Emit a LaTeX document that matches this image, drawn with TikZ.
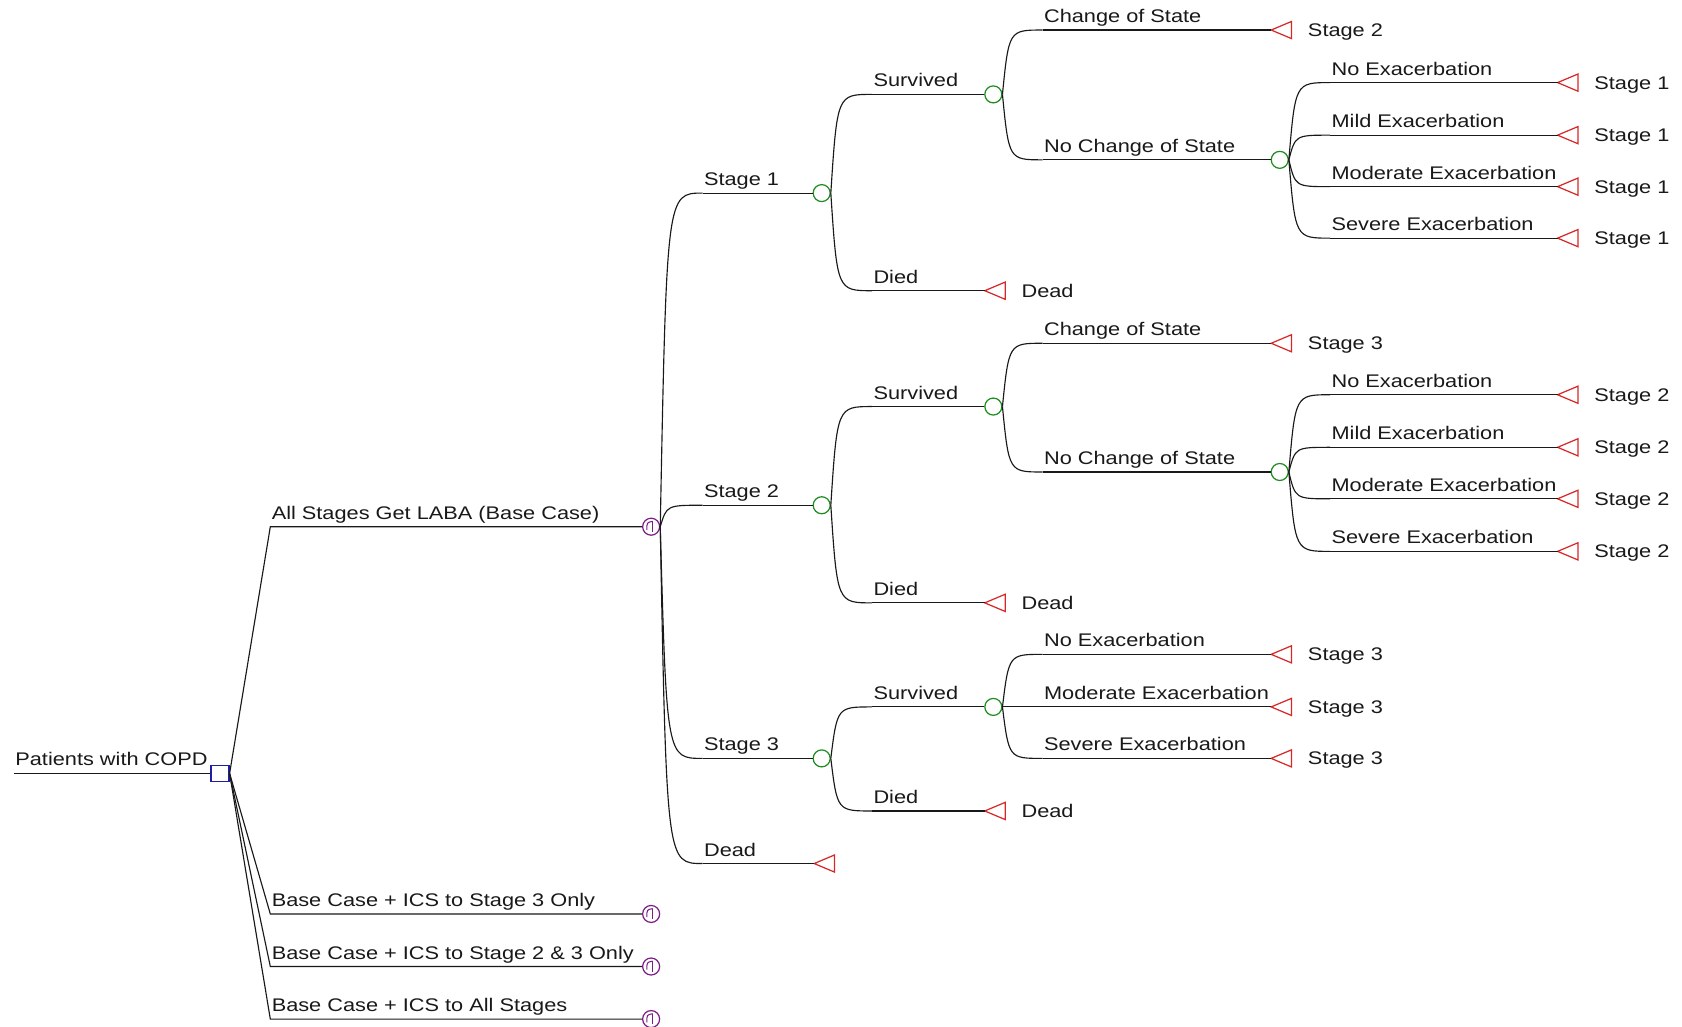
\documentclass[tikz,border=0pt]{standalone}
\usepackage{fontspec}
\setmainfont[FakeStretch=1.19]{Liberation Sans}
\usetikzlibrary{calc}
\definecolor{chg}{RGB}{30,140,30}
\definecolor{trm}{RGB}{215,40,40}
\definecolor{dec}{RGB}{30,30,165}
\definecolor{mkv}{RGB}{125,30,135}
\definecolor{ln}{RGB}{25,25,25}
\newcommand\brn[5]{%
  \coordinate (#2) at (#3,#4);
  \draw[br] (#1.east) .. controls ($(#1.east |- #2)+(6,0)$) and ($(#1.east |- #2)+(6,0)$) .. (#2);
  \node[lbl] (#2-l) at ($(#2)+(1,-7)$) {#5};}
\newcommand\trmnode[4]{%
  \coordinate (#1) at (#2,#3);
  \draw[term] (#1) -- ++(19,-8) -- ++(0,16) -- cycle;
  \node[tlbl] (#1-l) at ($(#1)+(34,6)$) {#4};}
\newcommand\mkvnode[3]{%
  \node[markov] (#1) at (#2,#3) {};
  \draw[mkv, line width=0.6pt] ($(#1)+(1.5,-5)$) -- ++(0,10);
  \draw[mkv, line width=0.6pt] ($(#1)+(-4,3)$) .. controls ($(#1)+(-4,-4)$) .. ($(#1)+(1.5,-5)$);}
\begin{document}
\begin{tikzpicture}[x=0.021454cm,y=-0.021454cm,
  br/.style={draw=ln, line width=0.65pt},
  term/.style={draw=trm, line width=0.7pt, line join=miter},
  chance/.style={circle, draw=chg, line width=0.7pt, minimum size=0.34cm, inner sep=0pt},
  markov/.style={circle, draw=mkv, line width=0.7pt, minimum size=0.34cm, inner sep=0pt},
  decision/.style={rectangle, draw=dec, line width=0.8pt, minimum width=0.36cm, minimum height=0.32cm, inner sep=0pt},
  lbl/.style={anchor=base west, inner sep=0pt, font=\fontsize{10.4}{12}\selectfont, text=ln},
  tlbl/.style={anchor=base west, inner sep=0pt, font=\fontsize{10.4}{12}\selectfont, text=ln}]
\useasboundingbox (0,0) rectangle (1568,957);

% root
\node[decision] (root) at (205,721) {};
\coordinate (r0) at (13,721);
\draw[br] (r0) -- (root);
\node[lbl] (r0-l) at ($(r0)+(1,-7)$) {Patients with COPD};

% strategies
\mkvnode{mA}{607}{491}
\mkvnode{mB}{607}{852}
\mkvnode{mC}{607}{901}
\mkvnode{mD}{607}{950}
\coordinate (a0) at (252,491);
\coordinate (b0) at (252,852);
\coordinate (c0) at (252,901);
\coordinate (d0) at (252,950);
\draw[br] (root.east) -- (a0) -- (mA);
\draw[br] (root.east) -- (b0) -- (mB);
\draw[br] (root.east) -- (c0) -- (mC);
\draw[br] (root.east) -- (d0) -- (mD);
\node[lbl] (a0-l) at ($(a0)+(1,-7)$) {All Stages Get LABA (Base Case)};
\node[lbl] (b0-l) at ($(b0)+(1,-7)$) {Base Case + ICS to Stage 3 Only};
\node[lbl] (c0-l) at ($(c0)+(1,-7)$) {Base Case + ICS to Stage 2 \& 3 Only};
\node[lbl] (d0-l) at ($(d0)+(1,-7)$) {Base Case + ICS to All Stages};

% Markov states
\node[chance] (c1) at (766,180) {};
\node[chance] (c2) at (766,471) {};
\node[chance] (c3) at (766,707) {};
\brn{mA}{s1}{655}{180}{Stage 1}
\brn{mA}{s2}{655}{471}{Stage 2}
\brn{mA}{s3}{655}{707}{Stage 3}
\brn{mA}{s4}{655}{805}{Dead}
\trmnode{t0}{759}{805}{}
\draw[br] (s1) -- (c1);
\draw[br] (s2) -- (c2);
\draw[br] (s3) -- (c3);
\draw[br] (s4) -- (t0);

% ---- Stage 1
\node[chance] (c11) at (926,88) {};
\brn{c1}{s11}{813}{88}{Survived}
\brn{c1}{s12}{813}{271}{Died}
\trmnode{t12}{918}{271}{Dead}
\draw[br] (s11) -- (c11);
\draw[br] (s12) -- (t12);
\node[chance] (c112) at (1193,149) {};
\brn{c11}{s111}{972}{28}{Change of State}
\brn{c11}{s112}{972}{149}{No Change of State}
\trmnode{t111}{1185}{28}{Stage 2}
\draw[br] (s111) -- (t111);
\draw[br] (s112) -- (c112);
\brn{c112}{e11}{1240}{77}{No Exacerbation}
\brn{c112}{e12}{1240}{126}{Mild Exacerbation}
\brn{c112}{e13}{1240}{174}{Moderate Exacerbation}
\brn{c112}{e14}{1240}{222}{Severe Exacerbation}
\trmnode{te11}{1452}{77}{Stage 1}
\trmnode{te12}{1452}{126}{Stage 1}
\trmnode{te13}{1452}{174}{Stage 1}
\trmnode{te14}{1452}{222}{Stage 1}
\draw[br] (e11) -- (te11);
\draw[br] (e12) -- (te12);
\draw[br] (e13) -- (te13);
\draw[br] (e14) -- (te14);

% ---- Stage 2
\node[chance] (c21) at (926,379) {};
\brn{c2}{s21}{813}{379}{Survived}
\brn{c2}{s22}{813}{562}{Died}
\trmnode{t22}{918}{562}{Dead}
\draw[br] (s21) -- (c21);
\draw[br] (s22) -- (t22);
\node[chance] (c212) at (1193,440) {};
\brn{c21}{s211}{972}{320}{Change of State}
\brn{c21}{s212}{972}{440}{No Change of State}
\trmnode{t211}{1185}{320}{Stage 3}
\draw[br] (s211) -- (t211);
\draw[br] (s212) -- (c212);
\brn{c212}{e21}{1240}{368}{No Exacerbation}
\brn{c212}{e22}{1240}{417}{Mild Exacerbation}
\brn{c212}{e23}{1240}{465}{Moderate Exacerbation}
\brn{c212}{e24}{1240}{514}{Severe Exacerbation}
\trmnode{te21}{1452}{368}{Stage 2}
\trmnode{te22}{1452}{417}{Stage 2}
\trmnode{te23}{1452}{465}{Stage 2}
\trmnode{te24}{1452}{514}{Stage 2}
\draw[br] (e21) -- (te21);
\draw[br] (e22) -- (te22);
\draw[br] (e23) -- (te23);
\draw[br] (e24) -- (te24);

% ---- Stage 3
\node[chance] (c31) at (926,659) {};
\brn{c3}{s31}{813}{659}{Survived}
\brn{c3}{s32}{813}{756}{Died}
\trmnode{t32}{918}{756}{Dead}
\draw[br] (s31) -- (c31);
\draw[br] (s32) -- (t32);
\brn{c31}{e31}{972}{610}{No Exacerbation}
\brn{c31}{e32}{972}{659}{Moderate Exacerbation}
\brn{c31}{e33}{972}{707}{Severe Exacerbation}
\trmnode{te31}{1185}{610}{Stage 3}
\trmnode{te32}{1185}{659}{Stage 3}
\trmnode{te33}{1185}{707}{Stage 3}
\draw[br] (e31) -- (te31);
\draw[br] (e32) -- (te32);
\draw[br] (e33) -- (te33);
\end{tikzpicture}
\end{document}
